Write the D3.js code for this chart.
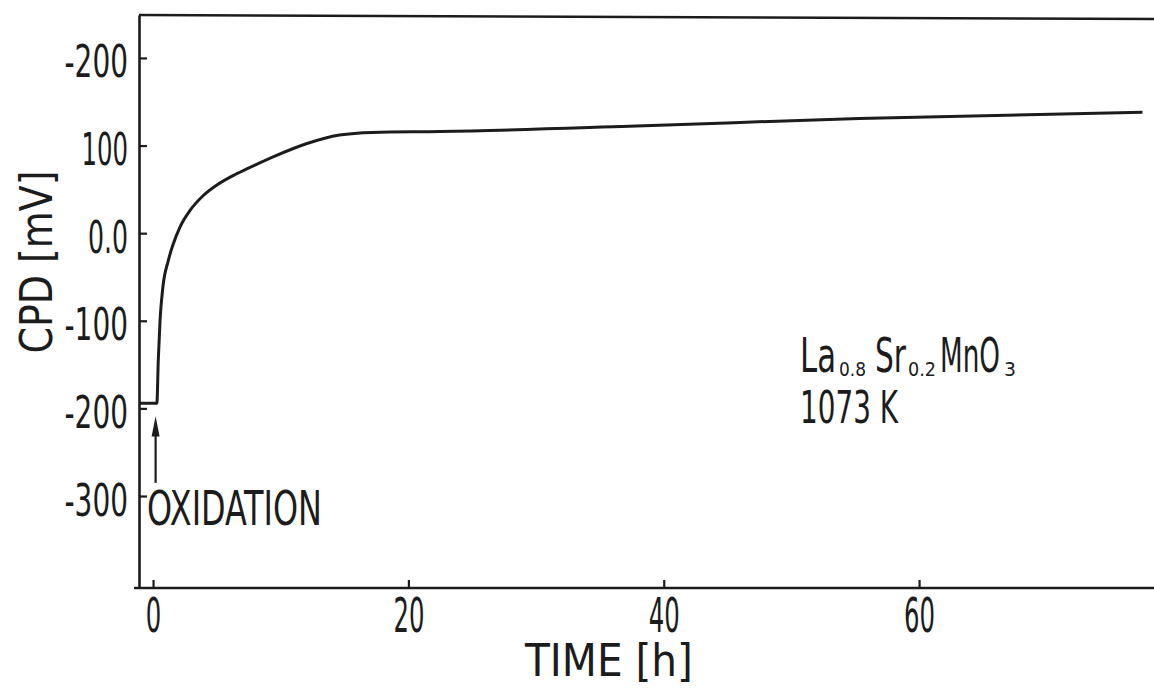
<!DOCTYPE html>
<html>
<head>
<meta charset="utf-8">
<script src="https://cdn.jsdelivr.net/npm/d3@7"></script>
<style>
  html, body { margin: 0; padding: 0; background: #fff; }
  svg { display: block; }
  text { font-family: "Liberation Sans Narrow", "DejaVu Sans Condensed", "Liberation Sans", sans-serif; fill: #1c1c1c; }
</style>
</head>
<body>
<svg id="chart" width="1154" height="689"></svg>
<script>
// CPD transient of La0.8Sr0.2MnO3 at 1073 K after switching to oxidising gas
const timeH = [-1.1, 0.3, 0.41, 0.55, 0.76, 1.2, 1.59, 2.11, 2.9, 3.94, 5.0, 6.3, 7.3, 9.4, 12.0, 14.6, 17.2, 22.5, 37.3, 55.3, 77.5];
const cpdMV = [-194, -194, -145, -99, -63, -31, -12, 7, 26, 43, 55, 66, 73, 87, 102, 112, 115, 116, 122, 131, 138];

const yTickValues = [200, 100, 0, -100, -200, -300];
const yTickLabels = ["-200", "100", "0.0", "-100", "-200", "-300"];
const xTickValues = [0, 20, 40, 60];
const xTickLabels = ["0", "20", "40", "60"];

const svg = d3.select("#chart");
const ink = "#1c1c1c";

const plotLeft = 139, plotRight = 1154, plotTop = 15, plotBottom = 588;
const x = d3.scaleLinear().domain([-1.1, 78.4]).range([plotLeft, plotRight]);
const y = d3.scaleLinear().domain([-405, 249]).range([plotBottom, plotTop]);

// The lettering is tall and narrow: pick the font size from the wanted width,
// then stretch vertically to the wanted cap height.
const CAP_RATIO = 0.72;
function fitText(t, width, cap, tx, ty, rotate) {
  t.attr("x", 0).attr("y", 0).attr("dy", null)
   .attr("textLength", null).attr("font-size", 100);
  const natural = t.node().getComputedTextLength();
  const size = 100 * width / natural;
  const k = cap / (CAP_RATIO * size);
  t.attr("font-size", size.toFixed(2))
   .attr("transform", `translate(${tx},${ty})${rotate ? ` rotate(${rotate})` : ""} scale(1,${k.toFixed(3)})`);
  return t;
}
function addText(parent, str, width, cap, tx, ty, anchor, rotate) {
  const t = parent.append("text").attr("text-anchor", anchor || "start").text(str);
  return fitText(t, width, cap, tx, ty, rotate);
}

// approximate widths of the condensed numerals
function labelWidth(s) {
  let w = 0;
  for (const c of s) w += c === "-" ? 17 : c === "." ? 9 : 15.5;
  return w;
}

// left axis, ticks pointing inward
const yAxis = d3.axisLeft(y)
  .tickValues(yTickValues)
  .tickFormat((d, i) => yTickLabels[i])
  .tickSizeInner(-8)
  .tickSizeOuter(0)
  .tickPadding(11);

const gy = svg.append("g").attr("transform", `translate(${plotLeft},0)`).call(yAxis);
gy.attr("font-family", null).attr("font-size", null);
gy.select(".domain").attr("stroke", ink).attr("stroke-width", 2.6);
gy.selectAll(".tick line").attr("stroke", ink).attr("stroke-width", 2.2);
gy.selectAll(".tick text").each(function (d) {
  const label = yTickLabels[yTickValues.indexOf(d)];
  fitText(d3.select(this).attr("fill", ink), labelWidth(label), 32, -11, 19);
});

// bottom axis, ticks pointing inward
const xAxis = d3.axisBottom(x)
  .tickValues(xTickValues)
  .tickFormat((d, i) => xTickLabels[i])
  .tickSizeInner(-8)
  .tickSizeOuter(0)
  .tickPadding(11);

const gx = svg.append("g").attr("transform", `translate(0,${plotBottom})`).call(xAxis);
gx.attr("font-family", null).attr("font-size", null);
gx.select(".domain").attr("stroke", ink).attr("stroke-width", 2.6)
  .attr("d", `M${plotLeft - 5},0H${plotRight}`);
gx.selectAll(".tick line").attr("stroke", ink).attr("stroke-width", 2.2);
gx.selectAll(".tick text").each(function (d) {
  const label = xTickLabels[xTickValues.indexOf(d)];
  fitText(d3.select(this).attr("fill", ink), labelWidth(label), 34, 0, 44);
});

// top frame line
svg.append("line")
  .attr("x1", plotLeft).attr("x2", plotRight)
  .attr("y1", plotTop).attr("y2", plotTop + 4)
  .attr("stroke", ink).attr("stroke-width", 2.4);

// CPD curve
const line = d3.line()
  .x((d, i) => x(timeH[i]))
  .y(d => y(d))
  .curve(d3.curveMonotoneX);

svg.append("path")
  .datum(cpdMV)
  .attr("d", line)
  .attr("fill", "none")
  .attr("stroke", ink)
  .attr("stroke-width", 3)
  .attr("stroke-linejoin", "round");

// axis titles
addText(svg, "TIME [h]", 168, 32, 609, 676, "middle");
addText(svg, "CPD [mV]", 183, 32, 52, 262, "middle", -90);

// oxidation marker
const arrowX = x(0.2);
svg.append("line")
  .attr("x1", arrowX).attr("x2", arrowX)
  .attr("y1", y(-285)).attr("y2", y(-226))
  .attr("stroke", ink).attr("stroke-width", 2.2);
svg.append("path")
  .attr("d", `M${arrowX},${y(-209)} L${arrowX - 4},${y(-232)} L${arrowX + 4},${y(-232)} Z`)
  .attr("fill", ink);

addText(svg, "OXIDATION", 175, 34, 147, 525);

// sample annotation: formula written piece by piece with subscripts
const formulaParts = [
  { s: "La",  x0: 800,  w: 36, sub: false },
  { s: "0.8", x0: 839,  w: 27, sub: true },
  { s: "Sr",  x0: 875,  w: 31, sub: false },
  { s: "0.2", x0: 908,  w: 28, sub: true },
  { s: "MnO", x0: 940,  w: 60, sub: false },
  { s: "3",   x0: 1004, w: 12, sub: true }
];
const gf = svg.append("g");
formulaParts.forEach(p => {
  addText(gf, p.s, p.w, p.sub ? 14 : 34, p.x0, p.sub ? 376 : 372);
});

addText(svg, "1073 K", 98, 32, 800, 423);
</script>
</body>
</html>
